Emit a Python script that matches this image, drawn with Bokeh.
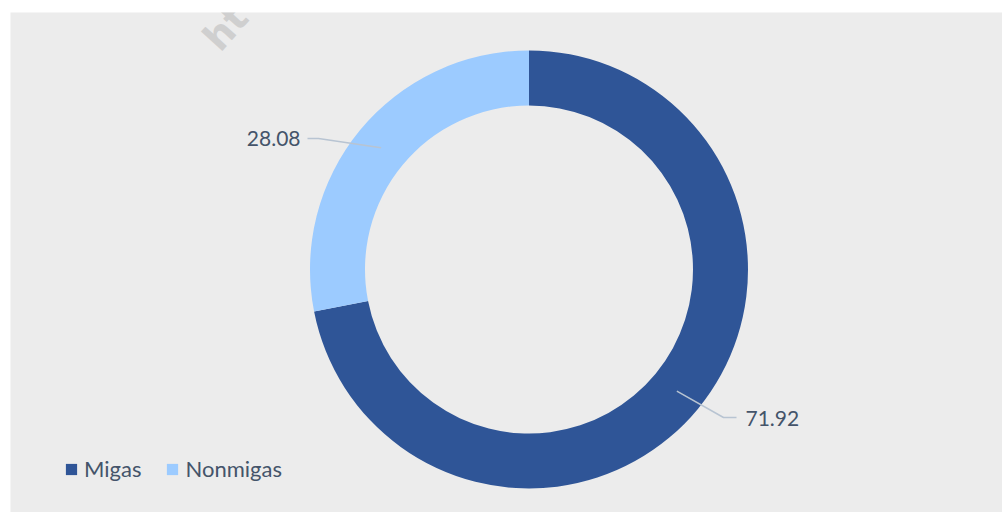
import math
from bokeh.plotting import figure
from bokeh.models import Range1d, Legend, LegendItem
from bokeh.core.properties import value
from bokeh.embed import file_html
from bokeh.resources import INLINE

# ---- data ----
categories = ["Migas", "Nonmigas"]
shares = [71.92, 28.08]
labels = ["71.92", "28.08"]
colors = ["#2f5597", "#9ccbff"]

# ---- layout (pixels in plot frame) ----
W, H = 1002, 512
FW, FH = 992, 500
cx, cy = 518.5, 243.0
R_OUT, R_IN = 219, 164
FONT = "Lato"
TXT = "#44546a"
LEADER = "#b8c4d2"
# elbow / end points of leader lines and label anchors per slice
elbows = [(713, 95), (308, 374)]
ends = [(726, 95), (297, 374)]
label_pos = [(735, 94), (290, 374)]
label_align = ["left", "right"]

p = figure(width=W, height=H, x_range=Range1d(0, FW), y_range=Range1d(0, FH),
           output_backend="svg", toolbar_location=None,
           min_border_left=10, min_border_top=12, min_border_right=0, min_border_bottom=0,
           background_fill_color="#ececec", border_fill_color="white",
           outline_line_color=None)
p.axis.visible = False
p.grid.visible = False

total = sum(shares)
start = math.pi / 2
starts, ends_a, mids = [], [], []
for s in shares:
    sweep = s / total * 2 * math.pi
    starts.append(start)
    ends_a.append(start - sweep)
    mids.append(start - sweep / 2)
    start -= sweep

renderers = []
for i in range(len(shares)):
    r = p.annular_wedge(x=cx, y=cy, inner_radius=R_IN, outer_radius=R_OUT,
                        start_angle=starts[i], end_angle=ends_a[i], direction="clock",
                        fill_color=colors[i], line_color=None)
    renderers.append(r)

# leader lines and data labels
r_mid = (R_IN + R_OUT) / 2
for i in range(len(shares)):
    x0 = cx + r_mid * math.cos(mids[i])
    y0 = cy + r_mid * math.sin(mids[i])
    p.line([x0, elbows[i][0], ends[i][0]], [y0, elbows[i][1], ends[i][1]],
           line_color=LEADER, line_width=1.5)
    p.text(x=[label_pos[i][0]], y=[label_pos[i][1]], text=[labels[i]],
           text_font=value(FONT), text_font_size="21px", text_color=TXT,
           text_align=label_align[i], text_baseline="middle")

# watermark fragment
p.text(x=[200], y=[468], text=["ht"], angle=math.radians(48),
       text_font=value("DejaVu Sans"), text_font_style="bold", text_font_size="38px",
       text_color="#c8c8c8", text_alpha=0.8, text_baseline="middle")

legend = Legend(items=[LegendItem(label=categories[i], renderers=[renderers[i]]) for i in range(len(shares))],
                orientation="horizontal", location=(54, 30),
                glyph_width=14, glyph_height=14, label_standoff=6, spacing=24,
                padding=0, margin=0,
                label_text_font=FONT, label_text_font_size="22px", label_text_color=TXT,
                background_fill_alpha=0, border_line_color=None)
p.add_layout(legend)

open("out.html", "w").write(file_html(p, INLINE))
